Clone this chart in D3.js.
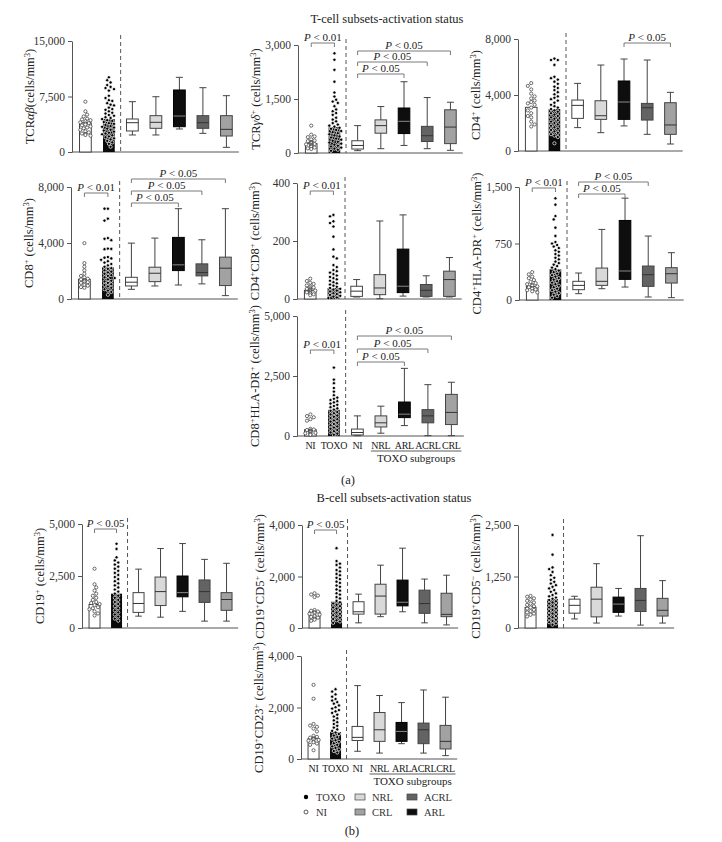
<!DOCTYPE html>
<html lang="en">
<head>
<meta charset="UTF-8">
<title>T-cell and B-cell subsets</title>
<script src="https://cdn.jsdelivr.net/npm/d3@7"></script>
<style>
  body { margin: 0; background: #fff; }
  svg { display: block; font-family: "Liberation Serif", "DejaVu Serif", serif; }
</style>
</head>
<body>
<script>
// groups: two scatter bars, then the five TOXO subgroups as boxes
const groupKeys = ["NI", "TOXO", "sNI", "NRL", "ARL", "ACRL", "CRL"];
const groupLabels = ["NI", "TOXO", "NI", "NRL", "ARL", "ACRL", "CRL"];
const subgroups = ["sNI", "NRL", "ARL", "ACRL", "CRL"];

// ---- TCR alpha beta
const abNI = [6800, 5500, 5050, 4800, 4500, 4400, 4300, 4150, 4000, 3900, 3850, 3700, 3600, 3450, 3300, 3200, 3000, 2800, 2650, 2500, 2400, 2300, 2200];
const abTOXO = [10100, 9700, 9400, 9050, 8800, 8650, 8500, 8300, 7600, 7300, 7000, 6900, 6600, 6400, 6300, 6000, 5800, 5700, 5500, 5300, 5200, 5000, 4900, 4700, 4600, 4450, 4300, 4200, 4050, 3900, 3800, 3650, 3500, 3400, 3300, 3150, 3000, 2900, 2750, 2600, 2500, 2400, 2250, 2100, 2000, 1850, 1700, 1500, 1300, 1100, 700];
const abMeans = [3950, 4450];
const abBoxes = [[2300, 2840, 3960, 4460, 6800], [2300, 3200, 4010, 4910, 7470], [3110, 3420, 4860, 8380, 10090], [2520, 3200, 3960, 4910, 8690], [630, 2160, 3060, 4910, 7610]];
const abTests = [];

// ---- TCR gamma delta
const gdNI = [760, 510, 460, 440, 380, 350, 330, 300, 290, 270, 250, 240, 220, 210, 190, 170, 150, 130, 110];
const gdTOXO = [2770, 2590, 2310, 1980, 1680, 1570, 1480, 1430, 1390, 1300, 1210, 1160, 1110, 1060, 980, 930, 880, 830, 790, 760, 730, 700, 670, 640, 610, 580, 550, 520, 490, 460, 430, 400, 370, 340, 310, 290, 260, 230, 200, 180, 150, 120, 90, 60];
const gdMeans = [260, 720];
const gdBoxes = [[65, 110, 210, 340, 760], [120, 550, 760, 920, 1290], [210, 540, 880, 1250, 1980], [120, 320, 480, 740, 1540], [75, 260, 720, 1200, 1410]];
const gdTests = [["NI", "TOXO", "P < 0.01"], ["sNI", "ARL", "P < 0.05"], ["sNI", "ACRL", "P < 0.05"], ["sNI", "CRL", "P < 0.05"]];

// ---- CD4
const cd4NI = [4850, 4650, 4400, 4100, 3900, 3750, 3600, 3500, 3400, 3300, 3100, 2900, 2700, 2500, 2400, 2100, 1900, 1750];
const cd4TOXO = [6600, 6500, 6500, 6150, 5300, 5200, 5100, 4950, 4800, 4600, 4500, 4350, 4200, 4050, 3900, 3800, 3700, 3600, 3450, 3300, 3200, 3100, 3000, 2900, 2800, 2700, 2600, 2500, 2400, 2300, 2200, 2100, 2000, 1900, 1800, 1700, 1600, 1500, 1400, 1300, 1200, 1100, 1000, 550];
const cd4Means = [3120, 3000];
const cd4Boxes = [[1670, 2330, 3260, 3640, 4830], [1310, 2260, 2520, 3590, 6140], [1790, 2260, 3500, 5000, 6570], [1190, 2210, 3090, 3400, 6500], [500, 1190, 1860, 3450, 4190]];
const cd4Tests = [["ARL", "CRL", "P < 0.05"]];

// ---- CD8
const cd8NI = [3990, 2560, 2300, 2050, 1800, 1650, 1550, 1450, 1400, 1350, 1300, 1250, 1200, 1150, 1100, 1000, 950, 850, 800];
const cd8TOXO = [6450, 6450, 5740, 5600, 4350, 4300, 4200, 3600, 3580, 3560, 3000, 2950, 2900, 2800, 2700, 2600, 2500, 2400, 2300, 2200, 2150, 2050, 1950, 1900, 1800, 1700, 1650, 1550, 1500, 1400, 1300, 1250, 1150, 1050, 1000, 900, 800, 700, 600, 500, 300];
const cd8Means = [1410, 2270];
const cd8Boxes = [[690, 930, 1200, 1550, 3990], [930, 1240, 1840, 2270, 4350], [1000, 2030, 2440, 4400, 6450], [1080, 1650, 1890, 2510, 4230], [240, 960, 2200, 2990, 6450]];
const cd8Tests = [["NI", "TOXO", "P < 0.01"], ["sNI", "CRL", "P < 0.05"], ["sNI", "ACRL", "P < 0.05"], ["sNI", "ARL", "P < 0.05"]];

// ---- CD4+CD8+
const dpNI = [70, 62, 56, 52, 47, 43, 40, 37, 35, 33, 31, 29, 27, 25, 23, 21, 19, 16, 13];
const dpTOXO = [290, 285, 268, 262, 250, 215, 171, 146, 140, 117, 110, 100, 96, 91, 86, 81, 76, 72, 68, 63, 58, 54, 50, 46, 42, 38, 35, 32, 29, 26, 23, 20, 17, 14, 11, 8, 5, 3];
const dpMeans = [30, 38];
const dpBoxes = [[7, 9, 27, 44, 67], [1, 15, 38, 84, 269], [10, 22, 44, 172, 290], [7, 9, 30, 50, 80], [7, 9, 67, 96, 143]];
const dpTests = [["NI", "TOXO", "P < 0.01"]];

// ---- CD4+HLA-DR+
const hla4NI = [370, 340, 310, 290, 265, 240, 225, 210, 200, 190, 180, 170, 160, 150, 140, 130, 115, 100];
const hla4TOXO = [1350, 1265, 1115, 1070, 960, 850, 770, 750, 730, 710, 690, 660, 640, 610, 590, 560, 540, 510, 490, 470, 450, 430, 410, 390, 370, 350, 330, 310, 290, 270, 250, 230, 210, 190, 170, 150, 130, 110, 90, 70, 50, 30];
const hla4Means = [181, 407];
const hla4Boxes = [[84, 137, 194, 248, 358], [150, 194, 248, 424, 937], [172, 274, 385, 1056, 1352], [40, 181, 336, 451, 849], [31, 225, 349, 429, 628]];
const hla4Tests = [["NI", "TOXO", "P < 0.01"], ["sNI", "ACRL", "P < 0.05"], ["sNI", "ARL", "P < 0.05"]];

// ---- CD8+HLA-DR+
const hla8NI = [900, 830, 780, 700, 640, 300, 270, 250, 230, 210, 190, 170, 150, 130, 110, 90, 70, 50];
const hla8TOXO = [2850, 2350, 2200, 2000, 1850, 1700, 1600, 1550, 1500, 1450, 1400, 1350, 1300, 1250, 1200, 1150, 1100, 1050, 1000, 950, 900, 850, 800, 750, 700, 650, 600, 550, 500, 450, 400, 350, 300, 250, 200, 150, 100, 50];
const hla8Means = [260, 1090];
const hla8Boxes = [[14, 43, 145, 289, 838], [116, 376, 549, 838, 1243], [434, 766, 910, 1416, 2818], [14, 549, 838, 1098, 2139], [14, 477, 983, 1734, 2240]];
const hla8Tests = [["NI", "TOXO", "P < 0.01"], ["sNI", "CRL", "P < 0.05"], ["sNI", "ACRL", "P < 0.05"], ["sNI", "ARL", "P < 0.05"]];

// ---- CD19+
const b19NI = [2850, 2100, 1950, 1800, 1650, 1550, 1450, 1350, 1250, 1200, 1150, 1100, 1000, 950, 900, 800, 700, 600];
const b19TOXO = [4050, 3800, 3400, 3250, 3150, 3050, 2950, 2850, 2750, 2650, 2550, 2450, 2350, 2250, 2150, 2050, 1950, 1850, 1750, 1650, 1550, 1450, 1350, 1250, 1150, 1050, 950, 850, 750, 650, 550, 450, 350];
const b19Means = [1130, 1650];
const b19Boxes = [[570, 750, 1180, 1700, 2830], [520, 1080, 1750, 2450, 3820], [800, 1500, 1700, 2500, 4060], [330, 1230, 1750, 2310, 3300], [330, 850, 1370, 1700, 3110]];
const b19Tests = [["NI", "TOXO", "P < 0.05"]];

// ---- CD19+CD5+
const b5pNI = [1350, 1300, 1260, 1200, 700, 670, 640, 610, 580, 550, 520, 490, 460, 430, 400, 360, 320, 280];
const b5pTOXO = [3100, 2600, 2500, 2450, 2350, 2250, 2200, 2100, 2050, 1950, 1900, 1800, 1750, 1650, 1600, 1500, 1450, 1350, 1300, 1200, 1150, 1050, 1000, 950, 900, 850, 800, 750, 700, 650, 600, 550, 500, 450, 400, 350, 300, 250, 200];
const b5pMeans = [630, 1020];
const b5pBoxes = [[200, 540, 630, 1020, 1315], [440, 540, 1240, 1700, 2440], [630, 860, 1000, 1860, 3100], [200, 570, 950, 1470, 1900], [120, 440, 530, 1350, 2050]];
const b5pTests = [["NI", "TOXO", "P < 0.05"]];

// ---- CD19+CD5-
const b5nNI = [780, 760, 720, 690, 660, 620, 590, 560, 530, 500, 470, 440, 410, 380, 350, 320, 280];
const b5nTOXO = [2260, 1780, 1470, 1430, 1360, 1280, 1220, 1170, 1120, 1080, 1040, 1000, 960, 920, 880, 840, 800, 770, 740, 710, 680, 650, 620, 590, 560, 530, 500, 470, 440, 410, 380, 350, 320, 290, 260, 230, 200, 170, 140, 110, 80];
const b5nMeans = [500, 700];
const b5nBoxes = [[220, 360, 550, 700, 770], [120, 270, 700, 990, 1560], [290, 380, 580, 750, 960], [70, 400, 670, 960, 2240], [120, 290, 430, 720, 1150]];
const b5nTests = [];

// ---- CD19+CD23+
const b23NI = [2880, 2340, 1360, 1300, 1250, 1180, 1070, 900, 860, 830, 800, 780, 760, 740, 710, 680, 650, 600, 550, 340];
const b23TOXO = [2710, 2620, 2510, 2420, 2330, 2270, 2210, 2150, 2080, 2010, 1960, 1900, 1850, 1790, 1720, 1650, 1580, 1500, 1430, 1360, 1290, 1220, 1150, 1090, 1030, 970, 910, 850, 790, 730, 670, 610, 550, 490, 430, 370, 310, 250];
const b23Means = [790, 1045];
const b23Boxes = [[300, 720, 840, 1265, 2850], [230, 685, 1135, 1805, 2465], [595, 685, 1070, 1420, 2190], [230, 595, 1135, 1395, 2680], [130, 390, 685, 1305, 2400]];
const b23Tests = [];

// colours
const boxFill = { sNI: "#ffffff", NRL: "#d9d9d9", ARL: "#0e0e0e", ACRL: "#636363", CRL: "#a2a2a2" };
const legendItems = [
  { key: "TOXO", kind: "dot" }, { key: "NI", kind: "ring" },
  { key: "NRL", kind: "box" }, { key: "CRL", kind: "box" },
  { key: "ACRL", kind: "box" }, { key: "ARL", kind: "box" }
];

// panel layout
const panels = [
  { title: "TCR~αβ~(cells/mm^3)", x0: 72, top: 41, bottom: 152, max: 15000, ticks: [0, 7500, 15000], step: 23.5, ni: abNI, toxo: abTOXO, means: abMeans, boxes: abBoxes, tests: abTests, testY: [] },
  { title: "TCR~γδ~^+ (cells/mm^3)", x0: 298, top: 45, bottom: 153, max: 3000, ticks: [0, 1500, 3000], step: 23.2, ni: gdNI, toxo: gdTOXO, means: gdMeans, boxes: gdBoxes, tests: gdTests, testY: [-2, 29, 17, 6] },
  { title: "CD4^+ (cells/mm^3)", x0: 518, top: 39, bottom: 151, max: 8000, ticks: [0, 4000, 8000], step: 23.2, ni: cd4NI, toxo: cd4TOXO, means: cd4Means, boxes: cd4Boxes, tests: cd4Tests, testY: [4] },
  { title: "CD8^+ (cells/mm^3)", x0: 71, top: 187, bottom: 299, max: 8000, ticks: [0, 4000, 8000], step: 23.5, ni: cd8NI, toxo: cd8TOXO, means: cd8Means, boxes: cd8Boxes, tests: cd8Tests, testY: [6, -8, 4, 16] },
  { title: "CD4^+CD8^+ (cells/mm^3)", x0: 297, top: 183, bottom: 299, max: 400, ticks: [0, 200, 400], step: 23.2, ni: dpNI, toxo: dpTOXO, means: dpMeans, boxes: dpBoxes, tests: dpTests, testY: [8] },
  { title: "CD4^+HLA-DR^+ (cells/mm^3)", x0: 519, top: 187, bottom: 300, max: 1500, ticks: [0, 750, 1500], step: 23.2, ni: hla4NI, toxo: hla4TOXO, means: hla4Means, boxes: hla4Boxes, tests: hla4Tests, testY: [1, -5, 7] },
  { title: "CD8^+HLA-DR^+ (cells/mm^3)", x0: 297, top: 316, bottom: 436, max: 5000, ticks: [0, 2500, 5000], step: 23.5, ni: hla8NI, toxo: hla8TOXO, means: hla8Means, boxes: hla8Boxes, tests: hla8Tests, testY: [34, 20, 33, 46], xLabels: true },
  { title: "CD19^+ (cells/mm^3)", x0: 82, top: 524, bottom: 628, max: 5000, ticks: [0, 2500, 5000], step: 22, ni: b19NI, toxo: b19TOXO, means: b19Means, boxes: b19Boxes, tests: b19Tests, testY: [5] },
  { title: "CD19^+CD5^+ (cells/mm^3)", x0: 302, top: 525, bottom: 628, max: 4000, ticks: [0, 2000, 4000], step: 22, ni: b5pNI, toxo: b5pTOXO, means: b5pMeans, boxes: b5pBoxes, tests: b5pTests, testY: [5] },
  { title: "CD19^+CD5^− (cells/mm^3)", x0: 518, top: 525, bottom: 628, max: 2500, ticks: [0, 1250, 2500], step: 22, ni: b5nNI, toxo: b5nTOXO, means: b5nMeans, boxes: b5nBoxes, tests: b5nTests, testY: [] },
  { title: "CD19^+CD23^+ (cells/mm^3)", x0: 301, top: 656, bottom: 759, max: 4000, ticks: [0, 2000, 4000], step: 22, ni: b23NI, toxo: b23TOXO, means: b23Means, boxes: b23Boxes, tests: b23Tests, testY: [], xLabels: true }
];

const W = 722, H = 842;
const svg = d3.select("body").append("svg").attr("width", W).attr("height", H);
svg.append("rect").attr("width", W).attr("height", H).attr("fill", "#fff");

// label markup: ^x superscript char, ~..~ italic
function richText(sel, str) {
  const parts = str.match(/\^.|~[^~]*~|[^\^~]+/g);
  let raised = false;
  parts.forEach(p => {
    if (p[0] === "^") {
      sel.append("tspan").attr("dy", raised ? 0 : -4.5).attr("font-size", "8.5px").text(p[1]);
      raised = true;
    } else {
      const t = sel.append("tspan").attr("dy", raised ? 4.5 : 0);
      raised = false;
      if (p[0] === "~") t.attr("font-style", "italic").text(p.slice(1, -1));
      else t.text(p);
    }
  });
}

// simple deterministic dodge so dots at the same height sit side by side
function swarm(values, y, cx, r, spread) {
  const gap = 2 * r + 0.2;
  const placed = [];
  const cands = [0];
  for (let k = 1; k * gap * 0.5 <= spread; k++) cands.push(k * gap * 0.5, -k * gap * 0.5);
  values.slice().sort((a, b) => b - a).forEach((v, i) => {
    const py = y(v);
    let px = cx;
    const order = i % 2 ? cands.map(c => -c) : cands;
    for (const c of order) {
      const tx = cx + c;
      const ok = placed.every(q => (q.x - tx) ** 2 + (q.y - py) ** 2 >= gap * gap);
      if (ok) { px = tx; break; }
    }
    placed.push({ x: px, y: py, v });
  });
  return placed;
}

function bracket(g, x1, x2, yy, label) {
  g.append("path")
    .attr("d", `M${x1},${yy + 4}V${yy}H${x2}V${yy + 4}`)
    .attr("fill", "none").attr("stroke", "#7a7a7a").attr("stroke-width", 1);
  const t = g.append("text").attr("x", (x1 + x2) / 2).attr("y", yy - 2)
    .attr("text-anchor", "middle").attr("font-size", 11).attr("fill", "#222");
  t.append("tspan").attr("font-style", "italic").text(label[0]);
  t.append("tspan").text(label.slice(1));
}

function drawPanel(p) {
  const g = svg.append("g");
  const y = d3.scaleLinear().domain([0, p.max]).range([p.bottom, p.top]);
  const x = d3.scalePoint().domain(groupKeys).range([p.x0 + p.step * 0.57, p.x0 + p.step * 6.57]);
  const bw = p.step * 0.5;
  const xEnd = p.x0 + p.step * 7.1;

  // axis
  const ga = g.append("g").attr("transform", `translate(${p.x0},0)`)
    .call(d3.axisLeft(y).tickValues(p.ticks).tickFormat(d3.format(",")).tickSize(4).tickSizeOuter(0).tickPadding(3));
  ga.select(".domain").attr("stroke", "#555");
  ga.selectAll(".tick line").attr("stroke", "#555");
  ga.selectAll(".tick text").attr("font-family", "Liberation Serif, serif").attr("font-size", 11.5).attr("fill", "#333");

  g.append("line").attr("x1", p.x0).attr("x2", xEnd).attr("y1", p.bottom).attr("y2", p.bottom)
    .attr("stroke", "#555");

  const xd = (x("TOXO") + x("sNI")) / 2;
  g.append("line").attr("x1", xd).attr("x2", xd).attr("y1", p.top - 6).attr("y2", p.bottom)
    .attr("stroke", "#555").attr("stroke-dasharray", "4,3");

  // mean bars
  g.append("rect").attr("x", x("NI") - bw / 2).attr("width", bw)
    .attr("y", y(p.means[0])).attr("height", p.bottom - y(p.means[0]))
    .attr("fill", "#fff").attr("stroke", "#444");
  g.append("rect").attr("x", x("TOXO") - bw / 2).attr("width", bw)
    .attr("y", y(p.means[1])).attr("height", p.bottom - y(p.means[1]))
    .attr("fill", "#0a0a0a");

  // individual values
  g.selectAll(null).data(swarm(p.ni, y, x("NI"), 1.6, 6.5)).join("circle")
    .attr("cx", d => d.x).attr("cy", d => d.y).attr("r", 1.6)
    .attr("fill", "#fff").attr("stroke", "#333").attr("stroke-width", 0.7);
  g.selectAll(null).data(swarm(p.toxo, y, x("TOXO"), 1.6, 7)).join("circle")
    .attr("cx", d => d.x).attr("cy", d => d.y).attr("r", 1.6)
    .attr("fill", "#000").attr("stroke", "#fff").attr("stroke-width", 0.7);

  // box plots
  subgroups.forEach((k, i) => {
    const [mn, q1, md, q3, mx] = p.boxes[i];
    const cx = x(k);
    g.append("line").attr("x1", cx).attr("x2", cx).attr("y1", y(mx)).attr("y2", y(mn)).attr("stroke", "#444");
    [mn, mx].forEach(v => g.append("line").attr("x1", cx - bw * 0.3).attr("x2", cx + bw * 0.3)
      .attr("y1", y(v)).attr("y2", y(v)).attr("stroke", "#444"));
    g.append("rect").attr("x", cx - bw / 2).attr("width", bw).attr("y", y(q3)).attr("height", y(q1) - y(q3))
      .attr("fill", boxFill[k]).attr("stroke", k === "ARL" ? "#000" : "#444");
    g.append("line").attr("x1", cx - bw / 2).attr("x2", cx + bw / 2).attr("y1", y(md)).attr("y2", y(md))
      .attr("stroke", k === "ARL" ? "#8a8a8a" : "#333");
  });

  // significance brackets
  p.tests.forEach((t, i) => bracket(g, x(t[0]), x(t[1]), p.top + p.testY[i], t[2]));

  // y title
  const yt = g.append("text").attr("transform", `translate(${p.x0 - 38},${(p.top + p.bottom) / 2}) rotate(-90)`)
    .attr("text-anchor", "middle").attr("font-size", 12.5).attr("fill", "#222");
  richText(yt, p.title);

  if (p.xLabels) {
    g.selectAll(null).data(groupKeys).join("text")
      .attr("x", d => x(d)).attr("y", p.bottom + 13).attr("text-anchor", "middle")
      .attr("font-size", 10).attr("letter-spacing", -0.3).attr("fill", "#222").text((d, i) => groupLabels[i]);
    g.append("line").attr("x1", x("NRL") - 10).attr("x2", x("CRL") + 10)
      .attr("y1", p.bottom + 15).attr("y2", p.bottom + 15).attr("stroke", "#333").attr("stroke-width", 0.8);
    g.append("text").attr("x", (x("NRL") + x("CRL")) / 2).attr("y", p.bottom + 26)
      .attr("text-anchor", "middle").attr("font-size", 11).attr("fill", "#222").text("TOXO subgroups");
  }
}

panels.forEach(drawPanel);

// titles and panel letters
const heads = [
  { t: "T-cell subsets-activation status", x: 387, y: 23 },
  { t: "(a)", x: 348, y: 484 },
  { t: "B-cell subsets-activation status", x: 394, y: 502 },
  { t: "(b)", x: 352, y: 835 }
];
svg.selectAll(null).data(heads).join("text")
  .attr("x", d => d.x).attr("y", d => d.y).attr("text-anchor", "middle")
  .attr("font-size", 12.5).attr("fill", "#222").text(d => d.t);

// legend
const legendPos = [[306, 797], [306, 812], [360, 797], [360, 812], [412, 797], [412, 812]];
const lg = svg.append("g");
legendItems.forEach((d, i) => {
  const [lx, ly] = legendPos[i];
  if (d.kind === "dot") lg.append("circle").attr("cx", lx).attr("cy", ly).attr("r", 2.2).attr("fill", "#000");
  else if (d.kind === "ring") lg.append("circle").attr("cx", lx).attr("cy", ly).attr("r", 2).attr("fill", "#fff").attr("stroke", "#333").attr("stroke-width", 0.8);
  else lg.append("rect").attr("x", lx - 5).attr("y", ly - 3).attr("width", 10).attr("height", 6)
    .attr("fill", boxFill[d.key]).attr("stroke", "#444").attr("stroke-width", 0.7);
  lg.append("text").attr("x", lx + (d.kind === "box" ? 12 : 10)).attr("y", ly + 3.5)
    .attr("font-size", 10.5).attr("fill", "#333").text(d.key);
});
</script>
</body>
</html>
